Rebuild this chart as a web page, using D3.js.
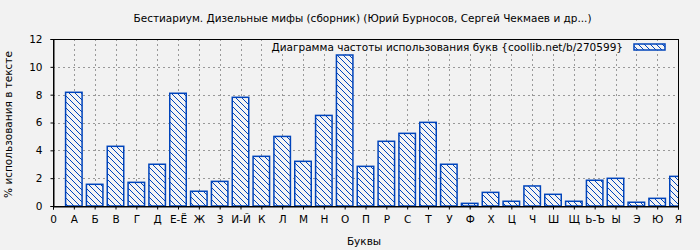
<!DOCTYPE html>
<html>
<head>
<meta charset="utf-8">
<script src="https://cdn.jsdelivr.net/npm/d3@7"></script>
<style>
html,body{margin:0;padding:0;background:#f2f2f2;}
svg{display:block;}
text{font-family:"DejaVu Sans",sans-serif;fill:#000;}
</style>
</head>
<body>
<div id="chart"></div>
<script>
const title = "Бестиариум. Дизельные мифы (сборник) (Юрий Бурносов, Сергей Чекмаев и др...)";
const legendLabel = "Диаграмма частоты использования букв {coollib.net/b/270599}";
const yAxisLabel = "% использования в тексте";
const xAxisLabel = "Буквы";
const tickLabels = ["0","А","Б","В","Г","Д","Е-Ё","Ж","З","И-Й","К","Л","М","Н","О","П","Р","С","Т","У","Ф","Х","Ц","Ч","Ш","Щ","Ь-Ъ","Ы","Э","Ю","Я"];
const letters = ["А","Б","В","Г","Д","Е-Ё","Ж","З","И-Й","К","Л","М","Н","О","П","Р","С","Т","У","Ф","Х","Ц","Ч","Ш","Щ","Ь-Ъ","Ы","Э","Ю","Я"];
const values = [8.17,1.56,4.29,1.70,3.00,8.10,1.06,1.77,7.81,3.57,5.00,3.21,6.51,10.85,2.85,4.65,5.22,6.01,3.00,0.19,0.98,0.34,1.44,0.84,0.34,1.85,1.99,0.27,0.55,2.13];
const yTicks = [0,2,4,6,8,10,12];

const W = 700, H = 250;
const m = {left:53, right:22, top:39, bottom:44};
const pw = W - m.left - m.right, ph = H - m.top - m.bottom;

const svg = d3.select("#chart").append("svg").attr("width",W).attr("height",H);
svg.append("rect").attr("width",W).attr("height",H).attr("fill","#f2f2f2");

const defs = svg.append("defs");
const pat = defs.append("pattern").attr("id","hatch").attr("patternUnits","userSpaceOnUse")
  .attr("width",6).attr("height",6);
pat.append("rect").attr("width",6).attr("height",6).attr("fill","#f4f4f4");
pat.append("path").attr("d","M-1,-1 L7,7 M-4,2 L1,7 M2,-4 L7,1").attr("stroke","#0044bb").attr("stroke-width",1);
defs.append("clipPath").attr("id","clip").append("rect")
  .attr("x",m.left).attr("y",m.top).attr("width",pw).attr("height",ph);

const x = d3.scaleLinear().domain([0,30]).range([m.left, m.left+pw]);
const y = d3.scaleLinear().domain([0,12]).range([m.top+ph, m.top]);

// grid
const grid = svg.append("g").attr("stroke","#999").attr("stroke-dasharray","2,3").attr("stroke-width",1);
yTicks.filter(d=>d>0 && d<12).forEach(d=>{
  grid.append("line").attr("x1",m.left).attr("x2",m.left+pw).attr("y1",Math.round(y(d))+0.5).attr("y2",Math.round(y(d))+0.5);
});
d3.range(1,30).forEach(i=>{
  grid.append("line").attr("x1",Math.round(x(i))+0.5).attr("x2",Math.round(x(i))+0.5).attr("y1",m.top).attr("y2",m.top+ph);
});

// bars
const bw = 16.5;
svg.append("g").attr("clip-path","url(#clip)").selectAll("rect").data(values).join("rect")
  .attr("x",(d,i)=>x(i+1)-bw/2).attr("width",bw)
  .attr("y",d=>y(d)).attr("height",d=>y(0)-y(d))
  .attr("fill","url(#hatch)").attr("stroke","#0044bb").attr("stroke-width",1.5);

// legend (text box hides grid behind the label)
svg.append("rect").attr("x",269).attr("y",40).attr("width",358).attr("height",14).attr("fill","#f2f2f2");
svg.append("text").attr("x",623).attr("y",51).attr("text-anchor","end").style("font-size","10.5px").text(legendLabel);
svg.append("rect").attr("x",634).attr("y",44).attr("width",31).attr("height",6)
  .attr("fill","url(#hatch)").attr("stroke","#0044bb").attr("stroke-width",1.5);

// frame
svg.append("rect").attr("x",m.left+0.5).attr("y",m.top+0.5).attr("width",pw).attr("height",ph)
  .attr("fill","none").attr("stroke","#000").attr("stroke-width",1);

// axes
const xAxis = d3.axisBottom(x).tickValues(d3.range(0,31)).tickFormat(i=>tickLabels[i]).tickSize(3).tickPadding(6);
const gx = svg.append("g").attr("transform",`translate(0,${m.top+ph+0.5})`).call(xAxis);
gx.select(".domain").attr("stroke","#000");
gx.selectAll("text").style("font-size","10.5px").attr("font-family","DejaVu Sans");

const yAxis = d3.axisLeft(y).tickValues(yTicks).tickSize(3).tickPadding(8);
const gy = svg.append("g").attr("transform",`translate(${m.left+0.5},0)`).call(yAxis);
gy.select(".domain").attr("stroke","#000");
gy.selectAll("text").style("font-size","10.5px").attr("font-family","DejaVu Sans");

// title
svg.append("text").attr("x",362.5).attr("y",21.5).attr("text-anchor","middle")
  .attr("textLength",458).attr("lengthAdjust","spacingAndGlyphs")
  .style("font-size","10px").text(title);

// axis labels
svg.append("text").attr("transform",`translate(12,${m.top+ph/2+2}) rotate(-90)`).attr("text-anchor","middle")
  .style("font-size","10.5px").text(yAxisLabel);
svg.append("text").attr("x",364).attr("y",245).attr("text-anchor","middle")
  .style("font-size","10.5px").text(xAxisLabel);
</script>
</body>
</html>
